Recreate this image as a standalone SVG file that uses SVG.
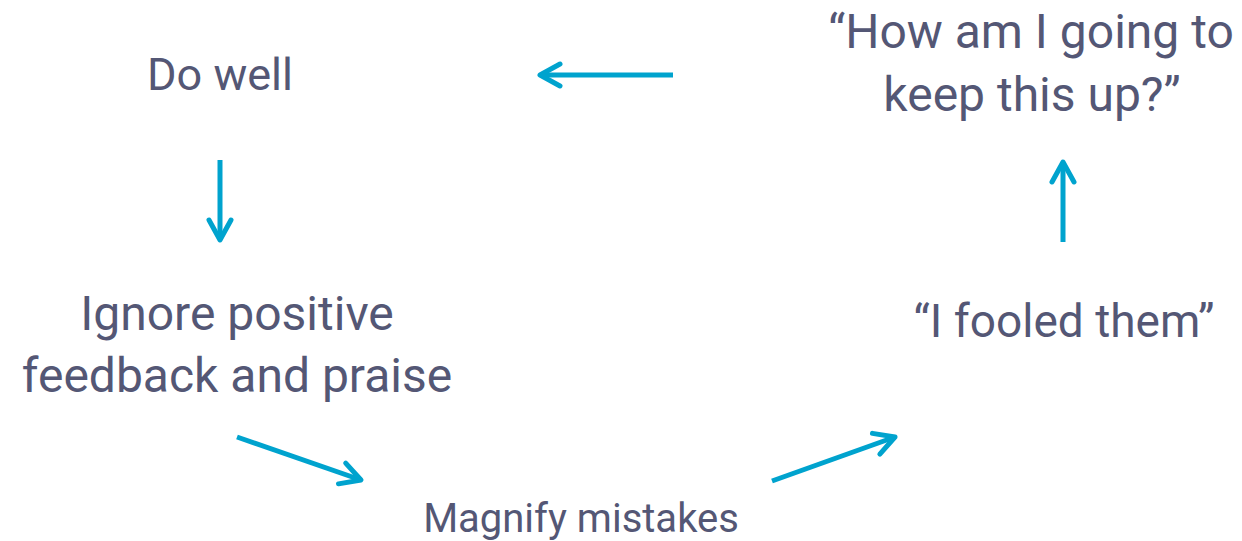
<svg xmlns="http://www.w3.org/2000/svg" width="1242" height="541" viewBox="0 0 1242 541">
  <style>
    .lbl { font-family: Roboto, "Liberation Sans", sans-serif; fill: #545775; text-anchor: middle; }
    .arrow { stroke: #00A3CE; stroke-width: 5; fill: none; marker-end: url(#head); }
  </style>
  <defs>
    <!-- open chevron arrowhead shared by every connector -->
    <marker id="head" markerUnits="userSpaceOnUse" viewBox="-26 -16 30 32" refX="0" refY="0" markerWidth="30" markerHeight="32" orient="auto">
      <path d="M -20,-11 L 0,0 L -20,11" fill="none" stroke="#00A3CE" stroke-width="5" stroke-linecap="round" stroke-linejoin="round"/>
    </marker>
  </defs>
  <rect width="1242" height="541" fill="#ffffff"/>

  <g id="node-do-well">
    <text class="lbl" font-size="45" x="220" y="90">Do well</text>
  </g>
  <g id="node-ignore">
    <text class="lbl" font-size="48" x="237" y="330">Ignore positive</text>
    <text class="lbl" font-size="48" x="237" y="392">feedback and praise</text>
  </g>
  <g id="node-magnify">
    <text class="lbl" font-size="40" x="581" y="532">Magnify mistakes</text>
  </g>
  <g id="node-fooled">
    <text class="lbl" font-size="46" x="1064" y="337">“I fooled them”</text>
  </g>
  <g id="node-keep-up">
    <text class="lbl" font-size="48" x="1031" y="48">“How am I going to</text>
    <text class="lbl" font-size="48" x="1032" y="111">keep this up?”</text>
  </g>

  <g id="connectors">
    <line class="arrow" x1="673" y1="75" x2="540" y2="75"/>
    <line class="arrow" x1="220" y1="160" x2="220" y2="240"/>
    <line class="arrow" x1="237" y1="437" x2="361" y2="480"/>
    <line class="arrow" x1="772" y1="481" x2="895" y2="437"/>
    <line class="arrow" x1="1063" y1="242" x2="1063" y2="162"/>
  </g>
</svg>
